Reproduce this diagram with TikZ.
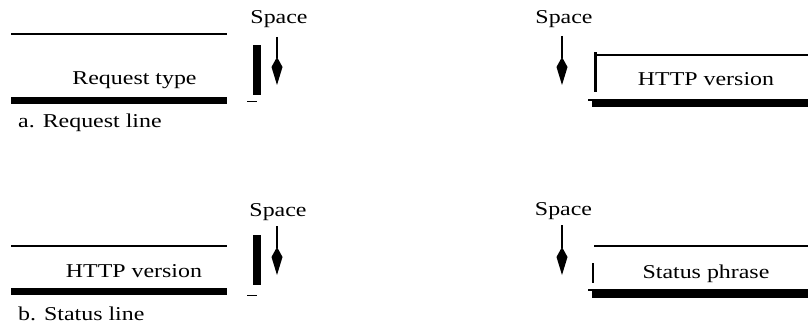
\documentclass[tikz,border=0pt]{standalone}
\usepackage{fontspec}
\setmainfont[FakeStretch=1.22]{Liberation Serif}
\usetikzlibrary{arrows.meta}
\tikzset{
  lbl/.style={inner sep=0pt, anchor=base, font=\fontsize{19.6}{22}\selectfont},
  captxt/.style={inner sep=0pt, anchor=base west, font=\fontsize{19.6}{22}\selectfont},
  thinln/.style={line width=1.5pt},
  thickln/.style={line width=7pt},
  spbar/.style={fill=black},
  sparrow/.style={line width=1.4pt, -{Kite[length=28pt,width=11pt,inset=10pt]}},
}
\begin{document}
\begin{tikzpicture}[x=1pt,y=-1pt]
\useasboundingbox (0,0) rectangle (808,326);
% ---------- a. Request line ----------
\draw[thinln] (11,34) -- (227,34);
\draw[thickln] (11,101) -- (227,101);
\node[lbl] (rt) at (134.5,85) {Request type};
\node[captxt] (capa) at (18,128) {a. Request line};
\fill[spbar] (253,45) rectangle (261,95);
\draw[line width=1pt] (247,102) -- (257,102);
\node[lbl] (sp1) at (279,24) {Space};
\coordinate (a1s) at (277,37);
\coordinate (a1e) at (277,85);
\draw[sparrow] (a1s) -- (a1e);
\node[lbl] (sp2) at (564,24) {Space};
\coordinate (a2s) at (562,36);
\coordinate (a2e) at (562,85);
\draw[sparrow] (a2s) -- (a2e);
\fill[spbar] (594,52) rectangle (597,92);
\draw[thinln] (595,55) -- (808,55);
\node[lbl] (hv1) at (706,86) {HTTP version};
\draw[line width=1.2pt] (588,100) -- (808,100);
\draw[thickln] (592,104) -- (808,104);
% ---------- b. Status line ----------
\draw[thinln] (11,246) -- (227,246);
\draw[thickln] (11,291.5) -- (227,291.5);
\node[lbl] (hv2) at (134,277) {HTTP version};
\node[captxt] (capb) at (18,320) {b. Status line};
\fill[spbar] (253,235) rectangle (261,285);
\draw[line width=1pt] (247,295) -- (257,295);
\node[lbl] (sp3) at (278,216) {Space};
\coordinate (b1s) at (277,226);
\coordinate (b1e) at (277,275);
\draw[sparrow] (b1s) -- (b1e);
\node[lbl] (sp4) at (563.5,215) {Space};
\coordinate (b2s) at (562,225);
\coordinate (b2e) at (562,275);
\draw[sparrow] (b2s) -- (b2e);
\fill[spbar] (591.5,263) rectangle (594,283);
\draw[thinln] (594,246) -- (808,246);
\node[lbl] (sph) at (706,278) {Status phrase};
\draw[line width=1.2pt] (588,290) -- (808,290);
\draw[thickln] (592,294) -- (808,294);
\end{tikzpicture}
\end{document}
